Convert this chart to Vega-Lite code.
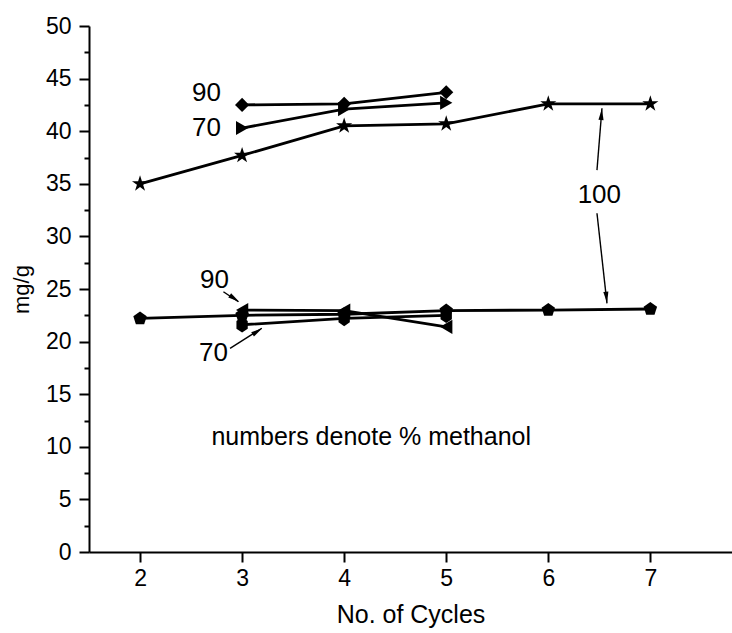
{
  "$schema": "https://vega.github.io/schema/vega-lite/v6.json",
  "width": 643,
  "height": 526,
  "autosize": {"type": "none"},
  "padding": {"left": 89, "top": 26, "right": 0, "bottom": 81},
  "background": "white",
  "config": {
    "view": {"stroke": null},
    "font": "Liberation Sans",
    "axis": {
      "domainColor": "black", "domainWidth": 2, "tickColor": "black", "tickWidth": 2,
      "labelColor": "black", "titleColor": "black", "grid": false,
      "labelFont": "Liberation Sans", "titleFont": "Liberation Sans",
      "labelFontWeight": "normal", "titleFontWeight": "normal"
    }
  },
  "datasets": {
    "series": [
      {"series": "up90", "cycle": 3, "value": 42.5},
      {"series": "up90", "cycle": 4, "value": 42.6},
      {"series": "up90", "cycle": 5, "value": 43.7},
      {"series": "up70", "cycle": 3, "value": 40.3},
      {"series": "up70", "cycle": 4, "value": 42.1},
      {"series": "up70", "cycle": 5, "value": 42.7},
      {"series": "up100", "cycle": 2, "value": 35.0},
      {"series": "up100", "cycle": 3, "value": 37.7},
      {"series": "up100", "cycle": 4, "value": 40.5},
      {"series": "up100", "cycle": 5, "value": 40.7},
      {"series": "up100", "cycle": 6, "value": 42.6},
      {"series": "up100", "cycle": 7, "value": 42.6},
      {"series": "lo100", "cycle": 2, "value": 22.2},
      {"series": "lo100", "cycle": 3, "value": 22.5},
      {"series": "lo100", "cycle": 4, "value": 22.6},
      {"series": "lo100", "cycle": 5, "value": 22.95},
      {"series": "lo100", "cycle": 6, "value": 23.0},
      {"series": "lo100", "cycle": 7, "value": 23.1},
      {"series": "lo90", "cycle": 3, "value": 23.0},
      {"series": "lo90", "cycle": 4, "value": 22.95},
      {"series": "lo90", "cycle": 5, "value": 21.4},
      {"series": "lo70", "cycle": 3, "value": 21.6},
      {"series": "lo70", "cycle": 4, "value": 22.2},
      {"series": "lo70", "cycle": 5, "value": 22.5}
    ],
    "labels": [
      {"label": "90", "cycle": 2.65, "value": 43.6},
      {"label": "70", "cycle": 2.65, "value": 40.3},
      {"label": "100", "cycle": 6.5, "value": 33.9},
      {"label": "90", "cycle": 2.73, "value": 25.9},
      {"label": "70", "cycle": 2.72, "value": 18.9}
    ],
    "note": [
      {"label": "numbers denote % methanol", "cycle": 4.265, "value": 10.9}
    ],
    "arrows": [
      {"cycle": 6.477, "value": 36.3, "cycle2": 6.526, "value2": 42.18},
      {"cycle": 6.477, "value": 32.2, "cycle2": 6.575, "value2": 23.64},
      {"cycle": 2.817, "value": 24.74, "cycle2": 2.964, "value2": 23.79},
      {"cycle": 2.882, "value": 19.36, "cycle2": 3.193, "value2": 21.27}
    ],
    "heads": [
      {"cycle": 6.521, "value": 41.6, "heading": 4.6},
      {"cycle": 6.57, "value": 24.2, "heading": 173.7},
      {"cycle": 2.925, "value": 24.1, "heading": 123.7},
      {"cycle": 3.15, "value": 20.98, "heading": 57.8}
    ]
  },
  "encoding": {
    "x": {
      "field": "cycle", "type": "quantitative",
      "scale": {"domain": [1.5, 7.8], "nice": false, "zero": false},
      "axis": {
        "title": "No. of Cycles", "values": [2, 3, 4, 5, 6, 7],
        "tickSize": 10, "labelFontSize": 23, "labelPadding": 5,
        "titleFontSize": 25, "titlePadding": 12
      }
    },
    "y": {
      "field": "value", "type": "quantitative",
      "scale": {"domain": [0, 50], "nice": false},
      "axis": {
        "title": "mg/g",
        "values": [0, 2.5, 5, 7.5, 10, 12.5, 15, 17.5, 20, 22.5, 25, 27.5, 30, 32.5, 35, 37.5, 40, 42.5, 45, 47.5, 50],
        "labelExpr": "datum.value % 5 === 0 ? datum.label : ''",
        "tickSize": {"condition": {"test": "datum.value % 5 === 0", "value": 10}, "value": 5},
        "labelFontSize": 23, "labelPadding": 8,
        "titleFontSize": 22, "titlePadding": 12
      }
    }
  },
  "layer": [
    {
      "data": {"name": "series"},
      "mark": {"type": "line", "color": "black", "strokeWidth": 2.8},
      "encoding": {"detail": {"field": "series"}}
    },
    {
      "data": {"name": "series"},
      "mark": {"type": "point", "filled": true, "color": "black", "opacity": 1, "size": 200},
      "encoding": {
        "shape": {
          "field": "series", "type": "nominal", "legend": null,
          "scale": {
            "domain": ["up90", "up70", "up100", "lo100", "lo90", "lo70"],
            "range": [
              "diamond",
              "triangle-right",
              "M0,-1.2L0.27,-0.37L1.14,-0.37L0.436,0.142L0.706,0.971L0,0.458L-0.706,0.971L-0.436,0.142L-1.14,-0.37L-0.27,-0.37Z",
              "M0,-1L0.951,-0.309L0.588,0.809L-0.588,0.809L-0.951,-0.309Z",
              "triangle-left",
              "M0,-1.1L0.8,-0.55L0.8,0.55L0,1.1L-0.8,0.55L-0.8,-0.55Z"
            ]
          }
        }
      }
    },
    {
      "data": {"name": "arrows"},
      "mark": {"type": "rule", "color": "black", "strokeWidth": 1.4},
      "encoding": {
        "x2": {"field": "cycle2"},
        "y2": {"field": "value2"}
      }
    },
    {
      "data": {"name": "heads"},
      "mark": {"type": "point", "shape": "M0,-1L0.45,1L-0.45,1Z", "filled": true, "color": "black", "opacity": 1, "size": 130},
      "encoding": {
        "angle": {"field": "heading", "type": "quantitative", "scale": null}
      }
    },
    {
      "data": {"name": "labels"},
      "mark": {"type": "text", "fontSize": 26, "color": "black", "align": "center", "baseline": "middle", "font": "Liberation Sans"},
      "encoding": {"text": {"field": "label"}}
    },
    {
      "data": {"name": "note"},
      "mark": {"type": "text", "fontSize": 25, "color": "black", "align": "center", "baseline": "middle", "font": "Liberation Sans"},
      "encoding": {"text": {"field": "label"}}
    }
  ]
}
